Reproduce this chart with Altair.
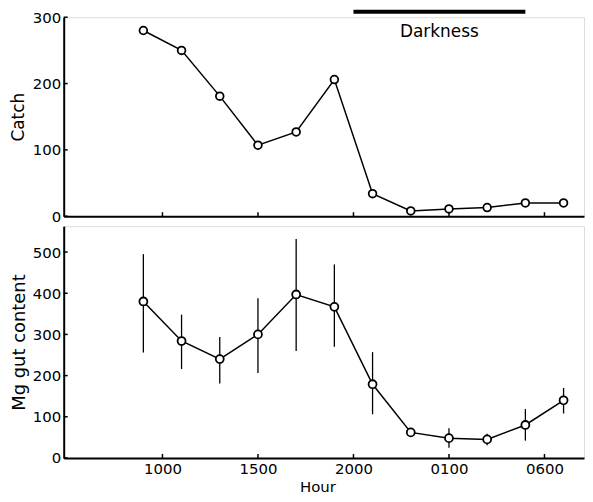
import altair as alt
import pandas as pd

# ---- data ----
hours = [9, 11, 13, 15, 17, 19, 21, 23, 25, 27, 29, 31]   # 25 = 0100 next day, etc.
catch = [280, 250, 181, 107, 127, 206, 34, 8, 11, 13, 20, 20]
gut = [380, 284, 240, 300, 397, 367, 179, 62, 48, 45, 80, 140]
gut_low = [256, 216, 181, 206, 260, 270, 106, 62, 25, 31, 42, 108]
gut_high = [495, 348, 294, 388, 532, 470, 257, 62, 72, 59, 119, 170]

tick_values = [10, 15, 20, 25, 30]
tick_labels = ["1000", "1500", "2000", "0100", "0600"]
catch_ticks = [0, 100, 200, 300]
gut_ticks = [0, 100, 200, 300, 400, 500]

dark_start, dark_end, dark_label = 20, 29, "Darkness"

X_DOMAIN = [4.83, 32.07]
W = 523
H1 = 200
H2 = 233
FONT = "DejaVu Sans"

label_expr = " : ".join(
    f"datum.value == {v} ? '{l}'" for v, l in zip(tick_values, tick_labels)
) + " : ''"

df_catch = pd.DataFrame({"hour": hours, "catch": catch})
df_gut = pd.DataFrame({"hour": hours, "gut": gut, "low": gut_low, "high": gut_high})
df_xt = pd.DataFrame({"t": tick_values})
df_ct = pd.DataFrame({"v": catch_ticks})
df_gt = pd.DataFrame({"v": gut_ticks})
df_dark = pd.DataFrame({"x1": [dark_start], "x2": [dark_end], "xm": [(dark_start + dark_end) / 2],
                        "label": [dark_label]})

yaxis_common = dict(grid=False, ticks=False, labelPadding=3, domainColor="black", domainWidth=2,
                    labelFont=FONT, labelFontSize=15, labelColor="black",
                    titleFont=FONT, titleFontWeight="normal", titleColor="black")

xscale = alt.Scale(domain=X_DOMAIN, nice=False, zero=False)

# ---------------- top panel ----------------
x_top = alt.X("hour:Q", scale=xscale,
              axis=alt.Axis(labels=False, ticks=False, title=None, grid=False,
                            domainColor="black", domainWidth=2, values=tick_values))
y_top = alt.Y("catch:Q", scale=alt.Scale(domain=[0, 300], nice=False),
              axis=alt.Axis(values=catch_ticks, title="Catch", titleFontSize=17,
                            titlePadding=5, **yaxis_common))

top_line = alt.Chart(df_catch).mark_line(color="black", strokeWidth=1.5).encode(x=x_top, y=y_top)
top_pts = alt.Chart(df_catch).mark_point(shape="circle", size=60, filled=False, fill="white",
                                         fillOpacity=1, stroke="black", strokeWidth=1.8,
                                         opacity=1).encode(x=x_top, y=y_top)
top_xticks = alt.Chart(df_xt).mark_rule(color="black", strokeWidth=1.5).encode(
    x=alt.X("t:Q", scale=xscale), y=alt.value(H1), y2=alt.value(H1 - 4))
top_yticks = alt.Chart(df_ct).mark_rule(color="black", strokeWidth=1.5).encode(
    y=alt.Y("v:Q", scale=alt.Scale(domain=[0, 300], nice=False)),
    x=alt.value(0), x2=alt.value(4))
dark_bar = alt.Chart(df_dark).mark_rule(color="black", strokeWidth=4).encode(
    x=alt.X("x1:Q", scale=xscale), x2="x2:Q", y=alt.value(-5.5))
dark_text = alt.Chart(df_dark).mark_text(font=FONT, fontSize=17, color="black",
                                         baseline="middle", align="center").encode(
    x=alt.X("xm:Q", scale=xscale), y=alt.value(15), text="label:N")

top = alt.layer(top_xticks, top_yticks, top_line, top_pts, dark_bar, dark_text).properties(
    width=W, height=H1)

# ---------------- bottom panel ----------------
x_bot = alt.X("hour:Q", scale=xscale,
              axis=alt.Axis(values=tick_values, labelExpr=label_expr, ticks=False, grid=False,
                            title="Hour", domainColor="black", domainWidth=2,
                            labelFont=FONT, labelFontSize=15, labelColor="black", labelPadding=4,
                            titleFont=FONT, titleFontSize=15, titleFontWeight="normal",
                            titleColor="black", titlePadding=3, titleX=255, titleAlign="center",
                            labelFlush=False))
y_bot = alt.Y("gut:Q", scale=alt.Scale(domain=[0, 563], nice=False),
              axis=alt.Axis(values=gut_ticks, title="Mg gut content", titleFontSize=18,
                            titlePadding=4, **yaxis_common))

bot_err = alt.Chart(df_gut).mark_rule(color="black", strokeWidth=1.3).encode(
    x=x_bot, y=alt.Y("low:Q", scale=alt.Scale(domain=[0, 563], nice=False)), y2="high:Q")
bot_line = alt.Chart(df_gut).mark_line(color="black", strokeWidth=1.5).encode(x=x_bot, y=y_bot)
bot_pts = alt.Chart(df_gut).mark_point(shape="circle", size=64, filled=False, fill="white",
                                       fillOpacity=1, stroke="black", strokeWidth=1.8,
                                       opacity=1).encode(x=x_bot, y=y_bot)
bot_xticks = alt.Chart(df_xt).mark_rule(color="black", strokeWidth=1.5).encode(
    x=alt.X("t:Q", scale=xscale), y=alt.value(H2), y2=alt.value(H2 - 4))
bot_yticks = alt.Chart(df_gt).mark_rule(color="black", strokeWidth=1.5).encode(
    y=alt.Y("v:Q", scale=alt.Scale(domain=[0, 563], nice=False)),
    x=alt.value(0), x2=alt.value(4))

bottom = alt.layer(bot_xticks, bot_yticks, bot_err, bot_line, bot_pts).properties(
    width=W, height=H2)

chart = alt.vconcat(top, bottom, spacing=0).properties(
    padding={"left": 0, "top": 0, "right": 0, "bottom": 0}
).configure_view(stroke=None).configure(background="white")

chart.save("out.html", embed_options={"renderer": "svg", "actions": False})
